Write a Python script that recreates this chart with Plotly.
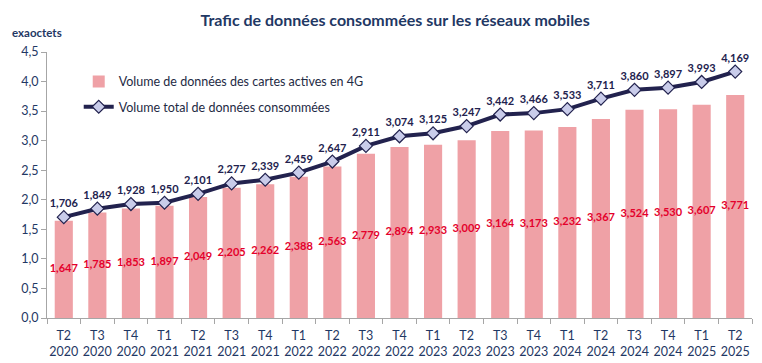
import plotly.graph_objects as go

quarters = ["T2", "T3", "T4", "T1", "T2", "T3", "T4", "T1", "T2", "T3", "T4",
            "T1", "T2", "T3", "T4", "T1", "T2", "T3", "T4", "T1", "T2"]
years = ["2020", "2020", "2020", "2021", "2021", "2021", "2021", "2022", "2022", "2022", "2022",
         "2023", "2023", "2023", "2023", "2024", "2024", "2024", "2024", "2025", "2025"]
volume_4g = [1.647, 1.785, 1.853, 1.897, 2.049, 2.205, 2.262, 2.388, 2.563, 2.779, 2.894,
             2.933, 3.009, 3.164, 3.173, 3.232, 3.367, 3.524, 3.530, 3.607, 3.771]
volume_total = [1.706, 1.849, 1.928, 1.950, 2.101, 2.277, 2.339, 2.459, 2.647, 2.911, 3.074,
                3.125, 3.247, 3.442, 3.466, 3.533, 3.711, 3.860, 3.897, 3.993, 4.169]
y_ticks = [0, 0.5, 1.0, 1.5, 2.0, 2.5, 3.0, 3.5, 4.0, 4.5]

cats = [f"{q}<br>{y}" for q, y in zip(quarters, years)]

def fr(v):
    return f"{v:.3f}".replace(".", ",")

FONT = "Lato, 'Open Sans', sans-serif"
BLUE = "#1F3864"
NAVY = "#22224E"

fig = go.Figure()
fig.add_trace(go.Bar(
    x=cats, y=volume_4g, name="Volume de données des cartes actives en 4G",
    legendgroup="a",
    marker=dict(color="#EFA1A6", line=dict(width=0)),
))
fig.add_trace(go.Scatter(
    x=cats, y=[v / 2 for v in volume_4g], mode="text",
    text=[fr(v) for v in volume_4g], showlegend=False, hoverinfo="skip",
    textfont=dict(family=FONT, size=11, color="#E4002B", weight="bold"),
))
fig.add_trace(go.Scatter(
    x=cats, y=volume_total, name="Volume total de données consommées",
    legendgroup="b",
    mode="lines+markers+text",
    line=dict(color=NAVY, width=4),
    marker=dict(symbol="diamond", size=10, color="#C9CCEA", line=dict(color=NAVY, width=1.2)),
    text=[fr(v) for v in volume_total], textposition="top center",
    textfont=dict(family=FONT, size=11, color=NAVY, weight="bold"),
))

fig.update_layout(
    width=762, height=363,
    margin=dict(l=39, r=18, t=44, b=53, autoexpand=False),
    paper_bgcolor="white", plot_bgcolor="white",
    font=dict(family=FONT, color=BLUE, size=12),
    bargap=0.46,
    title=dict(text="<b>Trafic de données consommées sur les réseaux mobiles</b>",
               x=0.508, xanchor="center", y=0.967, yanchor="middle",
               font=dict(size=16, color=BLUE, family=FONT)),
    legend=dict(x=0.045, y=0.944, xanchor="left", yanchor="top",
                bgcolor="rgba(0,0,0,0)", font=dict(size=12.5, color="#1E2A44"),
                tracegroupgap=6, itemwidth=30),
    xaxis=dict(range=[-0.5, len(cats) - 0.5], showline=True, linecolor="#A6A6A6",
               linewidth=1, tickangle=0, automargin=False, ticklabelstandoff=6,
               ticks="outside", tickson="boundaries", ticklen=5, tickcolor="#A6A6A6",
               tickfont=dict(size=12.5, color=BLUE), showgrid=False),
    yaxis=dict(range=[0, 4.5], tickvals=y_ticks, automargin=False,
               ticktext=[f"{v:.1f}".replace(".", ",") for v in y_ticks],
               showline=True, linecolor="#A6A6A6", linewidth=1,
               ticks="outside", ticklen=5, tickcolor="#A6A6A6",
               tickfont=dict(size=12.5, color=BLUE), showgrid=False, zeroline=False),
    annotations=[dict(text="<b>exaoctets</b>", xref="paper", yref="paper",
                      x=-0.0525, y=1.072, xanchor="left", yanchor="middle", showarrow=False,
                      font=dict(size=11.5, color=BLUE, family=FONT))],
)

fig.write_html("out.html")
